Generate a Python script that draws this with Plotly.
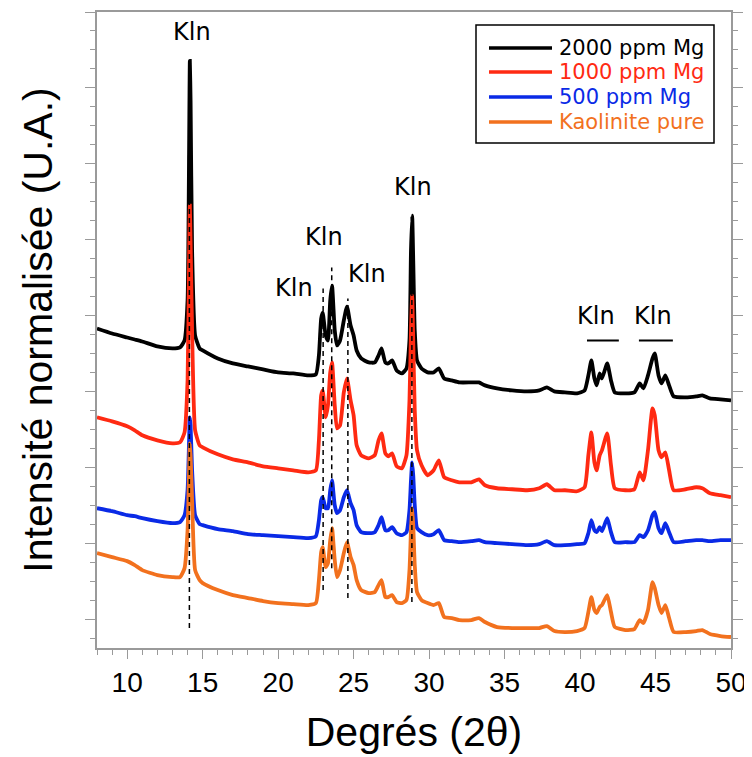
import plotly.graph_objects as go

# 2theta grid (degrees) shared by the four patterns
two_theta = [8.0, 9.0, 10.0, 10.5, 11.0, 12.0, 13.0, 13.5, 13.8, 14.0,
             14.1, 14.15, 14.2, 14.3, 14.5, 14.8, 15.0, 16.0, 17.0, 18.0,
             19.0, 20.0, 21.0, 22.0, 22.5, 22.7, 22.85, 22.95, 23.15, 23.3,
             23.45, 23.57, 23.75, 23.9, 24.1, 24.35, 24.56, 24.8, 25.0, 25.2,
             25.5, 26.0, 26.4, 26.65, 26.85, 27.1, 27.3, 27.55, 27.85, 28.2,
             28.5, 28.7, 28.8, 28.88, 28.95, 29.05, 29.2, 29.5, 29.9, 30.3,
             30.64, 31.0, 31.5, 32.0, 32.8, 33.3, 33.7, 34.5, 35.5, 36.5,
             37.3, 37.8, 38.3, 39.0, 39.8, 40.3, 40.55, 40.75, 40.95, 41.1,
             41.3, 41.45, 41.8, 42.05, 42.3, 43.0, 43.6, 43.95, 44.2, 44.5,
             44.8, 44.95, 45.2, 45.4, 45.65, 45.9, 46.2, 47.0, 47.7, 48.1,
             48.6, 49.3, 50.0]

# normalised intensities (stacked, arbitrary units)
mg_2000 = [291, 286, 282, 280, 278, 273, 271, 272, 279, 319,
           469, 559, 519, 369, 284, 271, 269, 261, 256, 253,
           250, 247, 246, 244, 245, 264, 301, 307, 284, 279,
           319, 334, 289, 274, 279, 299, 313, 294, 284, 269,
           261, 257, 257, 264, 271, 257, 256, 259, 249, 246,
           251, 279, 369, 404, 359, 289, 259, 251, 247, 247,
           251, 241, 239, 237, 237, 237, 234, 231, 229, 228,
           229, 232, 228, 227, 226, 229, 244, 259, 241, 234,
           246, 241, 256, 239, 227, 226, 227, 236, 231, 244,
           261, 266, 244, 236, 244, 234, 223, 222, 223, 224,
           221, 220, 219]
mg_1000 = [202, 198, 193, 189, 184, 179, 176, 177, 187, 239,
           359, 414, 379, 289, 189, 174, 172, 165, 160, 157,
           153, 151, 149, 147, 149, 179, 224, 229, 202, 214,
           247, 257, 214, 191, 194, 227, 241, 219, 204, 174,
           164, 161, 164, 179, 186, 166, 163, 166, 153, 151,
           164, 219, 289, 324, 279, 209, 169, 154, 144, 149,
           159, 142, 139, 137, 137, 140, 134, 131, 130, 129,
           131, 135, 129, 129, 128, 132, 164, 187, 157, 149,
           164, 169, 186, 154, 131, 129, 130, 147, 139, 169,
           211, 204, 169, 162, 167, 149, 129, 130, 132, 131,
           126, 124, 122]
mg_500 = [111, 108, 104, 103, 101, 98, 96, 97, 104, 129,
          179, 202, 194, 149, 104, 95, 94, 90, 88, 85,
          84, 83, 82, 81, 83, 99, 119, 122, 111, 111,
          129, 139, 114, 106, 109, 122, 129, 116, 109, 94,
          87, 86, 87, 94, 102, 89, 89, 92, 86, 84,
          87, 109, 139, 157, 144, 114, 91, 87, 84, 85,
          89, 79, 78, 77, 78, 79, 77, 76, 75, 74,
          75, 78, 74, 74, 75, 76, 86, 99, 89, 87,
          92, 88, 101, 87, 77, 77, 77, 84, 82, 89,
          104, 107, 91, 86, 96, 87, 77, 78, 79, 79,
          78, 79, 79]
kaol_pure = [66, 62, 58, 54, 49, 44, 42, 42, 51, 89,
             149, 176, 164, 119, 49, 39, 36, 29, 24, 21,
             18, 16, 15, 14, 16, 39, 67, 72, 52, 56,
             79, 91, 59, 42, 49, 66, 77, 62, 54, 39,
             29, 26, 27, 34, 39, 22, 22, 24, 17, 16,
             19, 49, 89, 111, 94, 54, 27, 19, 16, 14,
             16, 2, 1, -1, -1, 1, -3, -8, -9, -9,
             -9, -7, -12, -13, -12, -9, 7, 22, 9, 6,
             12, 14, 24, 7, -8, -11, -10, -1, -4, 9,
             37, 31, 14, 6, 14, 1, -13, -13, -12, -11,
             -15, -17, -18]

names = ["2000 ppm Mg", "1000 ppm Mg", "500 ppm Mg", "Kaolinite pure"]
colors = ["#000000", "#ff2a12", "#0a2ae6", "#f2711e"]

# kaolinite reflections: dashed guide lines
kln_line_x = [14.12, 22.98, 23.55, 24.62, 28.86]
kln_line_lo = [-9, 29, 51, 21, 17]
kln_line_hi = [559, 331, 352, 321, 404]

# "Kln" labels
kln_lab_x = [14.27, 21.06, 23.04, 25.88, 28.93, 41.03, 44.86]
kln_lab_y = [588, 332, 383, 346, 433, 304, 304]
kln_bar_x0 = [40.46, 43.9]
kln_bar_x1 = [42.57, 46.15]
kln_bar_y = [279, 279]

# page has an 8px body margin, so the figure is drawn 8px in from the corner
OFF = 8
W, H = 752 - OFF, 757 - OFF
L, R, T, B = 97, 731, 12, 648   # plot frame in window pixels


def px(x):
    return (x - L) / (R - L)


def py(y):
    return (B - y) / (B - T)


fig = go.Figure()
for ys, nm, col in zip([mg_2000, mg_1000, mg_500, kaol_pure], names, colors):
    fig.add_trace(go.Scatter(x=two_theta, y=ys, mode="lines", name=nm,
                             line=dict(color=col, width=3.8, shape="spline", smoothing=0.5),
                             showlegend=False))

for x, lo, hi in zip(kln_line_x, kln_line_lo, kln_line_hi):
    fig.add_trace(go.Scatter(x=[x, x], y=[lo, hi], mode="lines",
                             line=dict(color="black", width=1.5, dash="5px,4px"),
                             showlegend=False, hoverinfo="skip"))

for x, y in zip(kln_lab_x, kln_lab_y):
    fig.add_annotation(x=x, y=y, text="Kln", showarrow=False,
                       xanchor="center", yanchor="middle",
                       font=dict(family="DejaVu Sans", size=24, color="black"))

for x0, x1, y in zip(kln_bar_x0, kln_bar_x1, kln_bar_y):
    fig.add_shape(type="line", x0=x0, x1=x1, y0=y, y1=y,
                  line=dict(color="black", width=2))

# legend box drawn by hand (long sample lines, coloured labels)
fig.add_shape(type="rect", xref="paper", yref="paper",
              x0=px(476), x1=px(714), y0=py(143), y1=py(25),
              line=dict(color="black", width=1.5), fillcolor="white")
rows = [48, 72, 97, 122]
for row, nm, col in zip(rows, names, colors):
    fig.add_shape(type="line", xref="paper", yref="paper",
                  x0=px(489), x1=px(552), y0=py(row), y1=py(row),
                  line=dict(color=col, width=3.5))
    fig.add_annotation(xref="paper", yref="paper", x=px(557), y=py(row),
                       text=nm, showarrow=False, xanchor="left", yanchor="middle",
                       font=dict(family="DejaVu Sans", size=21, color=col))

axcol = "#9a9a9a"
fig.update_layout(
    width=W, height=H,
    margin=dict(l=L - OFF, r=W - (R - OFF), t=T - OFF, b=H - (B - OFF)),
    plot_bgcolor="white", paper_bgcolor="white",
    showlegend=False,
    font=dict(family="Liberation Sans, Arial, sans-serif", color="black"),
    xaxis=dict(
        range=[8, 50], tick0=10, dtick=5, automargin=False,
        ticks="outside", ticklen=9, tickwidth=1.2, tickcolor=axcol,
        minor=dict(dtick=1, tick0=8, ticks="outside", ticklen=5,
                   tickwidth=1.2, tickcolor=axcol),
        showline=True, linecolor=axcol, linewidth=1.5, mirror=True,
        showgrid=False, zeroline=False,
        tickfont=dict(size=28),
        title=dict(text="Degrés (2θ)", font=dict(size=41), standoff=20),
    ),
    yaxis=dict(
        range=[-29, 608], tick0=0, dtick=76, automargin=False,
        ticks="outside", ticklen=10, tickwidth=1.2, tickcolor=axcol,
        minor=dict(dtick=19, ticks="outside", ticklen=5,
                   tickwidth=1.2, tickcolor=axcol),
        showline=True, linecolor=axcol, linewidth=1.5, mirror="allticks",
        showgrid=False, zeroline=False, showticklabels=False,
        title=dict(text="Intensité normalisée (U.A.)", font=dict(size=41),
                   standoff=20),
    ),
)

fig.write_html("out.html")
